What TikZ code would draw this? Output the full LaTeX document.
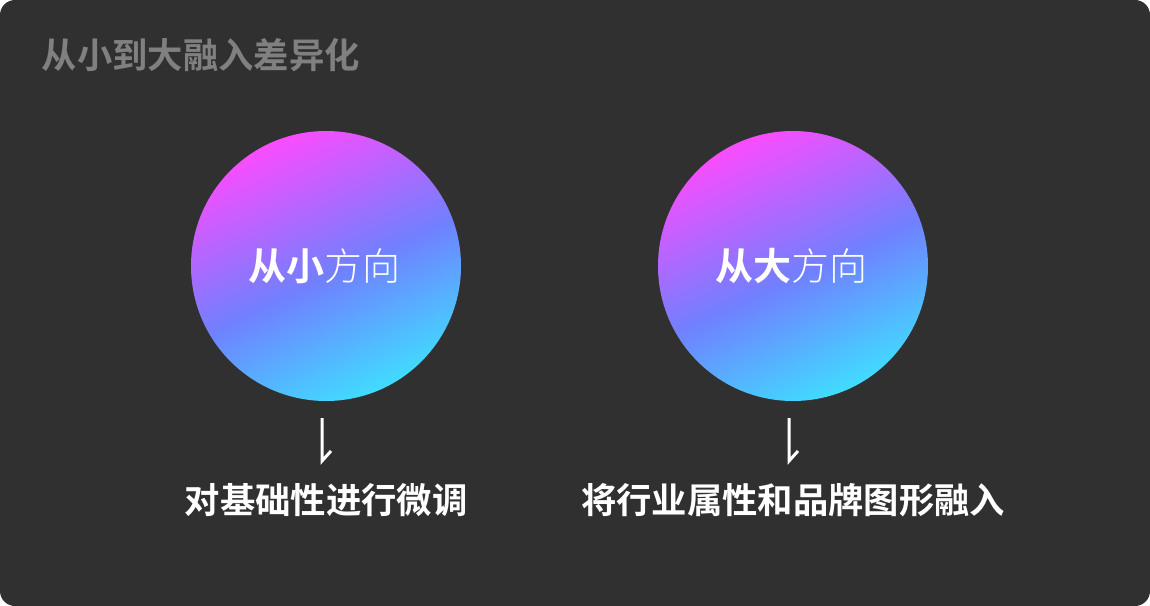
\documentclass[tikz,border=0pt]{standalone}
\usepackage{fontspec}
\setmainfont{Noto Sans CJK SC}[BoldFont={* Bold}]
\newfontfamily\lightcjk{Noto Sans CJK SC}[UprightFont={* Light}]
\usetikzlibrary{positioning}

\definecolor{bgdark}{RGB}{48,48,48}
\definecolor{titlegray}{RGB}{128,128,128}
\definecolor{gradmag}{RGB}{255,74,255}
\definecolor{gradblue}{RGB}{112,128,255}
\definecolor{gradcyan}{RGB}{62,224,255}

\pgfdeclareverticalshading{ballshade}{100bp}{color(0bp)=(gradcyan); color(24bp)=(gradcyan); color(48bp)=(gradblue); color(76bp)=(gradmag); color(100bp)=(gradmag)}

\tikzset{
  ball/.style={circle, minimum size=202.5pt, inner sep=0pt, shading=ballshade, shading angle=25},
  balltext/.style={text=white, font=\fontsize{28.5pt}{30pt}\selectfont},
  steptext/.style={text=white, font=\fontsize{26.5pt}{28pt}\selectfont\bfseries},
  hookarrow/.style={draw=white, line width=2.25pt, line cap=butt, line join=miter}
}

\begin{document}
\begin{tikzpicture}[x=0.75pt,y=0.75pt,yscale=-1,xscale=1]
% background card
\fill[white] (0,0) rectangle (1150,606);
\useasboundingbox (0,0) rectangle (1150,606);
\fill[bgdark, rounded corners=11.25pt] (0,0) rectangle (1150,606);

% Title
\node[anchor=west, text=titlegray, font=\fontsize{26.5pt}{28pt}\selectfont\bfseries] (title) at (37,55) {从小到大融入差异化};

% Circles
\node[ball] (small) at (326,266) {};
\node[ball] (big) at (793,266) {};
\node[balltext] (smalltxt) at (324,266) {\textbf{从小}{\lightcjk 方向}};
\node[balltext] (bigtxt) at (791,266) {\textbf{从大}{\lightcjk 方向}};

% Arrows
\coordinate (arrowA) at (322,418);
\coordinate (arrowB) at (789,418);
\draw[hookarrow] (arrowA) -- ++(0,43) -- ++(9,-10);
\draw[hookarrow] (arrowB) -- ++(0,43) -- ++(9,-10);

% Bottom texts
\node[steptext] (smallstep) at (326,500) {对基础性进行微调};
\node[steptext] (bigstep) at (793,500) {将行业属性和品牌图形融入};

\end{tikzpicture}
\end{document}
